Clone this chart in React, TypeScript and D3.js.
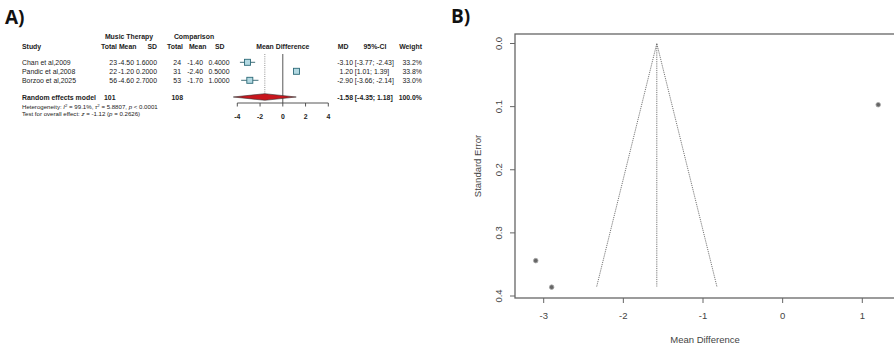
import * as d3 from "d3";

// forest plot data (panel A)
const studies = ["Chan et al,2009", "Pandic et al,2008", "Borzoo et al,2025"];
const mtTotal = [23, 22, 56];
const mtMean = ["-4.50", "-1.20", "-4.60"];
const mtSd = ["1.6000", "0.2000", "2.7000"];
const cTotal = [24, 31, 53];
const cMean = ["-1.40", "-2.40", "-1.70"];
const cSd = ["0.4000", "0.5000", "1.0000"];
const md = [-3.1, 1.2, -2.9];
const ciLow = [-3.77, 1.01, -3.66];
const ciHigh = [-2.43, 1.39, -2.14];
const weights = ["33.2%", "33.8%", "33.0%"];
const pooled = { md: -1.58, low: -4.35, high: 1.18, mtN: 101, cN: 108 };
const forestTicks = [-4, -2, 0, 2, 4];

// funnel plot data (panel B)
const funnelSE = [0.344, 0.097, 0.386];
const funnelMaxSE = 0.385;
const funnelXTicks = [-3, -2, -1, 0, 1];
const funnelYTicks = [0, 0.1, 0.2, 0.3, 0.4];

const TXT = "#222";
const FONT = "'Liberation Sans', Arial, sans-serif";

const ForestPlot = () => {
  const x = d3.scaleLinear().domain([-4, 4]).range([237.3, 328.3]);
  const rowY = d3.scalePoint<number>().domain([0, 1, 2]).range([62.3, 80.3]);
  const sq = 6;
  const diamondY = 97;
  const dy = 2.5;
  const fs = 6.9;

  // right edges of the numeric columns
  const col = { mtN: 117, mtM: 134, mtS: 157, cN: 181, cM: 203, cS: 229.5, md: 353, w: 422 };

  return (
    <g fontFamily={FONT} fontSize={fs} fill={TXT}>
      {/* headers */}
      <g fontWeight="bold">
        <text x={129} y={38.5} textAnchor="middle">Music Therapy</text>
        <text x={194} y={38.5} textAnchor="middle">Comparison</text>
        <text x={22} y={49}>Study</text>
        <text x={col.mtN} y={49} textAnchor="end">Total</text>
        <text x={col.mtM + 2.5} y={49} textAnchor="end">Mean</text>
        <text x={col.mtS} y={49} textAnchor="end">SD</text>
        <text x={col.cN + 2} y={49} textAnchor="end">Total</text>
        <text x={col.cM + 3.5} y={49} textAnchor="end">Mean</text>
        <text x={col.cS - 5} y={49} textAnchor="end">SD</text>
        <text x={x(0)} y={49} textAnchor="middle">Mean Difference</text>
        <text x={348.5} y={49} textAnchor="end">MD</text>
        <text x={375} y={49} textAnchor="middle">95%-CI</text>
        <text x={col.w} y={49} textAnchor="end">Weight</text>
      </g>

      {/* study rows */}
      {studies.map((s, i) => {
        const y = rowY(i)! + dy;
        return (
          <g key={s}>
            <text x={22} y={y}>{s}</text>
            <text x={col.mtN} y={y} textAnchor="end">{mtTotal[i]}</text>
            <text x={col.mtM} y={y} textAnchor="end">{mtMean[i]}</text>
            <text x={col.mtS} y={y} textAnchor="end">{mtSd[i]}</text>
            <text x={col.cN} y={y} textAnchor="end">{cTotal[i]}</text>
            <text x={col.cM} y={y} textAnchor="end">{cMean[i]}</text>
            <text x={col.cS} y={y} textAnchor="end">{cSd[i]}</text>
            <text x={col.md} y={y} textAnchor="end">{md[i].toFixed(2)}</text>
            <text x={col.md + 1.8} y={y}>
              {`[${ciLow[i].toFixed(2)}; ${ciHigh[i].toFixed(2)}]`}
            </text>
            <text x={col.w} y={y} textAnchor="end">{weights[i]}</text>
          </g>
        );
      })}

      {/* pooled row */}
      <g fontWeight="bold">
        <text x={22} y={diamondY + dy}>Random effects model</text>
        <text x={115.5} y={diamondY + dy} textAnchor="end">{pooled.mtN}</text>
        <text x={183} y={diamondY + dy} textAnchor="end">{pooled.cN}</text>
        <text x={col.md} y={diamondY + dy} textAnchor="end">{pooled.md.toFixed(2)}</text>
        <text x={col.md + 1.8} y={diamondY + dy}>
          {`[${pooled.low.toFixed(2)}; ${pooled.high.toFixed(2)}]`}
        </text>
        <text x={col.w} y={diamondY + dy} textAnchor="end">100.0%</text>
      </g>
      <text x={22} y={108.5} fontSize={6.1}>
        Heterogeneity: <tspan fontStyle="italic">I</tspan>
        <tspan dy={-2} fontSize={4.3}>2</tspan>
        <tspan dy={2}> = 99.1%, </tspan>
        <tspan fontStyle="italic">τ</tspan>
        <tspan dy={-2} fontSize={4.3}>2</tspan>
        <tspan dy={2}> = 5.8807, </tspan>
        <tspan fontStyle="italic">p</tspan> {"< 0.0001"}
      </text>
      <text x={22} y={115.5} fontSize={6.1}>
        Test for overall effect: <tspan fontStyle="italic">z</tspan> = -1.12 (
        <tspan fontStyle="italic">p</tspan> = 0.2626)
      </text>

      {/* reference lines */}
      <line x1={x(0)} x2={x(0)} y1={54} y2={103} stroke="#444" strokeWidth={0.9} />
      <line
        x1={x(pooled.md)}
        x2={x(pooled.md)}
        y1={54}
        y2={diamondY}
        stroke="#777"
        strokeWidth={0.8}
        strokeDasharray="1,1.2"
      />

      {/* CIs and squares */}
      {studies.map((s, i) => (
        <g key={"m" + s}>
          <line
            x1={x(ciLow[i])}
            x2={x(ciHigh[i])}
            y1={rowY(i)}
            y2={rowY(i)}
            stroke="#2d5f6b"
            strokeWidth={0.9}
          />
          <rect
            x={x(md[i]) - sq / 2}
            y={rowY(i)! - sq / 2}
            width={sq}
            height={sq}
            fill="#b3d9e2"
            stroke="#2d6a78"
            strokeWidth={0.9}
          />
        </g>
      ))}

      {/* diamond */}
      <path
        d={`M${x(pooled.low)},${diamondY} L${x(pooled.md)},${diamondY - 3.3} L${x(pooled.high)},${diamondY} L${x(pooled.md)},${diamondY + 3.3} Z`}
        fill="#c8161d"
        stroke="#333"
        strokeWidth={0.6}
      />

      {/* axis */}
      <line x1={x(-4)} x2={x(4)} y1={103} y2={103} stroke="#444" strokeWidth={0.9} />
      {forestTicks.map((t) => (
        <g key={t}>
          <line x1={x(t)} x2={x(t)} y1={103} y2={106.5} stroke="#444" strokeWidth={0.9} />
          <text x={x(t)} y={119} textAnchor="middle" fontWeight="bold">
            {t}
          </text>
        </g>
      ))}
    </g>
  );
};

const FunnelPlot = () => {
  const x = d3.scaleLinear().domain([-3, 1]).range([543.7, 862.3]);
  const y = d3.scaleLinear().domain([0, 0.4]).range([43.5, 296]);
  const left = 515;
  const top = 34;
  const bottom = 298;
  const right = 895;
  const fs = 9.5;
  const funnel = d3.line<[number, number]>()
    .x((d) => x(d[0]))
    .y((d) => y(d[1]));

  return (
    <g fontFamily={FONT} fill="#444">
      <rect
        x={left}
        y={top}
        width={right - left}
        height={bottom - top}
        fill="none"
        stroke="#666"
        strokeWidth={1.3}
      />
      <path
        d={funnel([
          [pooled.md - 1.96 * funnelMaxSE, funnelMaxSE],
          [pooled.md, 0],
          [pooled.md + 1.96 * funnelMaxSE, funnelMaxSE],
        ])!}
        fill="none"
        stroke="#666"
        strokeWidth={0.9}
        strokeDasharray="1.2,1"
      />
      <line
        x1={x(pooled.md)}
        x2={x(pooled.md)}
        y1={y(0)}
        y2={y(funnelMaxSE)}
        stroke="#666"
        strokeWidth={0.9}
        strokeDasharray="1.2,1"
      />
      {md.map((m, i) => (
        <circle
          key={i}
          cx={x(m)}
          cy={y(funnelSE[i])}
          r={2.3}
          fill="#666"
          stroke="#aaa"
          strokeWidth={0.8}
        />
      ))}

      {/* x axis */}
      {funnelXTicks.map((t) => (
        <g key={t}>
          <line x1={x(t)} x2={x(t)} y1={bottom} y2={bottom + 5} stroke="#666" />
          <text x={x(t)} y={319} textAnchor="middle" fontSize={fs}>
            {t}
          </text>
        </g>
      ))}
      <text x={705} y={343} textAnchor="middle" fontSize={fs}>
        Mean Difference
      </text>

      {/* y axis */}
      {funnelYTicks.map((t) => (
        <g key={t}>
          <line x1={left} x2={left - 5} y1={y(t)} y2={y(t)} stroke="#666" />
          <text
            transform={`translate(${502},${y(t)}) rotate(-90)`}
            textAnchor="middle"
            fontSize={fs}
          >
            {t.toFixed(1)}
          </text>
        </g>
      ))}
      <text
        transform={`translate(${481},${166}) rotate(-90)`}
        textAnchor="middle"
        fontSize={fs}
      >
        Standard Error
      </text>
    </g>
  );
};

export default function App() {
  return (
    <svg
      width={894}
      height={347}
      style={{ position: "absolute", left: 0, top: 0, background: "#fff" }}
    >
      <text x={5} y={24} fontFamily="'Open Sans', sans-serif" fontWeight="bold" fontSize={19} fill="#111">
        A)
      </text>
      <text x={451} y={23} fontFamily="'Open Sans', sans-serif" fontWeight="bold" fontSize={19} fill="#111">
        B)
      </text>
      <ForestPlot />
      <FunnelPlot />
    </svg>
  );
}
